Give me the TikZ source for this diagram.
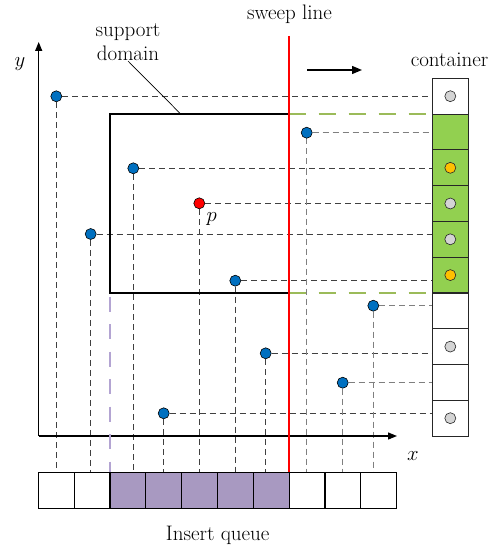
\documentclass[tikz,border=0pt]{standalone}
\usetikzlibrary{arrows.meta}
\pgfdeclarelayer{guides}
\pgfsetlayers{guides,main}
\definecolor{ptblue}{HTML}{0070C0}
\definecolor{ptred}{HTML}{FF0000}
\definecolor{cellgreen}{HTML}{92D050}
\definecolor{slotorange}{HTML}{FFC000}
\definecolor{slotgray}{HTML}{D4D4D4}
\definecolor{queuepurple}{HTML}{A899C1}
\definecolor{edgepurple}{HTML}{B3A4D2}
\definecolor{edgegreen}{HTML}{9BBB59}
\definecolor{guidedark}{HTML}{404040}
\definecolor{guidelight}{HTML}{7F7F7F}
\begin{document}
\begin{tikzpicture}[x=1pt,y=-1pt,
  lbl/.style={font=\fontsize{21}{24}\selectfont, inner sep=0pt},
  pt/.style={circle, draw=black, line width=0.6pt, minimum size=11pt, inner sep=0pt, fill=ptblue},
  slot/.style={circle, draw=black!85, line width=0.6pt, minimum size=11pt, inner sep=0pt, fill=slotgray},
  guide/.style={draw=guidedark, line width=1pt, dash pattern=on 6pt off 4pt},
  guidelt/.style={guide, draw=guidelight},
  qcell/.style={draw=black, line width=1.1pt, minimum width=35.84pt, minimum height=35.7pt, inner sep=0pt, fill=white},
  ccell/.style={draw=black!85, line width=1.1pt, minimum width=36pt, minimum height=35.77pt, inner sep=0pt, fill=white},
  axis/.style={draw=black, line width=1.2pt, -{Triangle[length=9pt,width=7pt]}},
]
\useasboundingbox (0,0) rectangle (491,548);

% insert queue
\node[qcell] (q1) at (56.2,490.2) {};
\node[qcell] (q2) at (92.1,490.2) {};
\node[qcell, fill=queuepurple] (q3) at (127.9,490.2) {};
\node[qcell, fill=queuepurple] (q4) at (163.8,490.2) {};
\node[qcell, fill=queuepurple] (q5) at (199.6,490.2) {};
\node[qcell, fill=queuepurple] (q6) at (235.4,490.2) {};
\node[qcell, fill=queuepurple] (q7) at (271.3,490.2) {};
\node[qcell] (q8) at (307.1,490.2) {};
\node[qcell] (q9) at (343.0,490.2) {};
\node[qcell] (q10) at (378.8,490.2) {};
\node[lbl, anchor=base] (qlabel) at (217.7,540) {Insert queue};

% container
\node[ccell] (c0) at (450.3,96.2) {};
\node[ccell, fill=cellgreen] (c1) at (450.3,132.0) {};
\node[ccell, fill=cellgreen] (c2) at (450.3,167.8) {};
\node[ccell, fill=cellgreen] (c3) at (450.3,203.5) {};
\node[ccell, fill=cellgreen] (c4) at (450.3,239.3) {};
\node[ccell, fill=cellgreen] (c5) at (450.3,275.1) {};
\node[ccell] (c6) at (450.3,310.9) {};
\node[ccell] (c7) at (450.3,346.6) {};
\node[ccell] (c8) at (450.3,382.4) {};
\node[ccell] (c9) at (450.3,418.2) {};
\node[slot] (s0) at (c0.center) {};
\node[slot, fill=slotorange] (s2) at (c2.center) {};
\node[slot] (s3) at (c3.center) {};
\node[slot] (s4) at (c4.center) {};
\node[slot, fill=slotorange] (s5) at (c5.center) {};
\node[slot] (s7) at (c7.center) {};
\node[slot] (s9) at (c9.center) {};
\node[lbl, anchor=base] (clabel) at (449.5,67) {container};

% axes
\coordinate (origin) at (38.7,436);
\coordinate (ytip) at (38.7,42);
\coordinate (xtip) at (397,436);
\draw[axis] (origin) -- (ytip);
\draw[axis] (origin) -- (xtip);
\node[lbl, anchor=base] (ylabel) at (20,67) {$y$};
\node[lbl, anchor=base] (xlabel) at (413,460) {$x$};

% sample points
\node[pt] (p1) at (56.3,96.3) {};
\node[pt] (p2) at (133.3,168.3) {};
\node[pt, fill=ptred] (pr) at (199.3,203.3) {};
\node[pt] (p4) at (90.7,234) {};
\node[pt] (p5) at (306.7,132.7) {};
\node[pt] (p6) at (235.3,280.7) {};
\node[pt] (p7) at (373.3,305.7) {};
\node[pt] (p8) at (265.7,353.3) {};
\node[pt] (p9) at (342.7,382.7) {};
\node[pt] (p10) at (163.7,413.3) {};
\node[lbl, anchor=base] (plabel) at (211.7,221) {$p$};

% projections onto the container and the queue, kept beneath everything else
\begin{pgfonlayer}{guides}
\foreach \p/\s in {p1/guide, p2/guide, pr/guide, p4/guide, p6/guide, p8/guide, p10/guide, p5/guidelt, p7/guidelt, p9/guidelt} {
  \draw[\s] (\p) -- (\p -| c0.west);
  \draw[\s] (\p) -- (\p |- q1.north);
}
\end{pgfonlayer}

% support domain
\coordinate (sdTL) at (110,114.3);
\coordinate (sdBL) at (110,293);
\coordinate (sweepTop) at (288.7,36);
\coordinate (sweepBot) at (288.7,472.3);
\draw[line width=1.6pt] (sdTL -| sweepTop) -- (sdTL) -- (sdBL) -- (sdBL -| sweepTop);
\draw[draw=edgegreen, line width=2.4pt, dash pattern=on 17pt off 13pt] (sdTL -| sweepTop) -- (sdTL -| c0.west);
\draw[draw=edgegreen, line width=2.4pt, dash pattern=on 17pt off 13pt] (sdBL -| sweepTop) -- (sdBL -| c0.west);
\draw[draw=edgepurple, line width=2.4pt, dash pattern=on 15pt off 12.5pt, dash phase=-3.5pt] (sdBL) -- (sdBL |- q3.north);
\node[lbl, anchor=south, align=center] (sdlabel) at (128,61) {support\\domain};
\coordinate (sdlead) at (181,114.3);
\draw[line width=0.7pt] (sdlabel.south) -- (sdlead);

% sweep line and its direction
\draw[draw=ptred, line width=2.4pt] (sweepTop) -- (sweepBot);
\node[lbl, anchor=base] (swlabel) at (289.5,20) {sweep line};
\coordinate (dirA) at (307,70);
\coordinate (dirB) at (362,70);
\draw[line width=1.3pt, -{Triangle[length=10pt,width=8pt]}] (dirA) -- (dirB);
\end{tikzpicture}
\end{document}
